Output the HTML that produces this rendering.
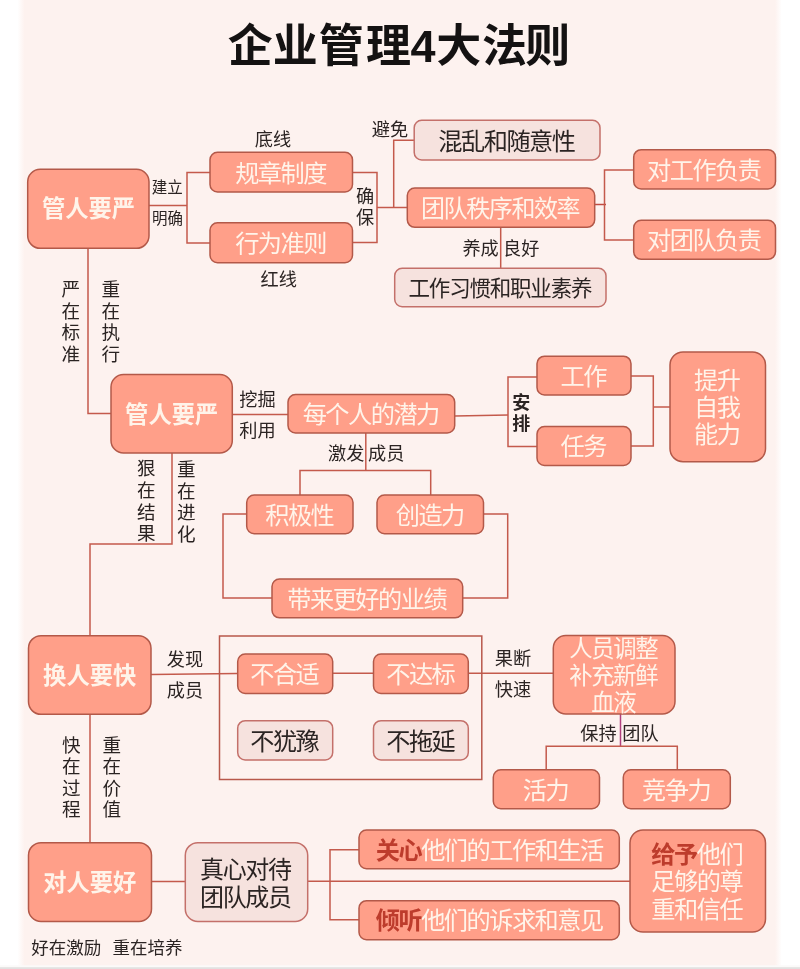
<!DOCTYPE html>
<html lang="zh">
<head>
<meta charset="utf-8">
<title>企业管理4大法则</title>
<style>
html,body{margin:0;padding:0;}
body{width:800px;height:969px;overflow:hidden;background:#fdf2ef;font-family:"Liberation Sans",sans-serif;position:relative;}
#stage{position:absolute;left:0;top:0;width:800px;height:969px;overflow:hidden;}
#stage svg{position:absolute;left:-10px;top:-10px;display:block;filter:blur(0.7px);}
.t{position:absolute;display:block;white-space:nowrap;overflow:hidden;color:transparent;line-height:1.2;font-family:"Liberation Sans",sans-serif;}
</style>
</head>
<body>
<div id="stage">
<svg width="820" height="989" viewBox="-10 -10 820 989">
<rect x="-10" y="-10" width="820" height="989" fill="#fdf2ef"/>
<defs><linearGradient id="ls" x1="0" x2="1" y1="0" y2="0"><stop offset="0" stop-color="#ffffff"/><stop offset="1" stop-color="#fdf2ef"/></linearGradient><linearGradient id="rs" x1="0" x2="1" y1="0" y2="0"><stop offset="0" stop-color="#fdf2ef"/><stop offset="1" stop-color="#ffffff"/></linearGradient></defs>
<rect x="-10" y="-10" width="28" height="989" fill="#ffffff"/>
<rect x="17.5" y="-10" width="7" height="989" fill="url(#ls)"/>
<rect x="775" y="-10" width="7" height="989" fill="url(#rs)"/>
<rect x="781.5" y="-10" width="30" height="989" fill="#ffffff"/>
<rect x="-10" y="965.3" width="820" height="3" fill="#fbfaf9"/>
<rect x="-10" y="967.2" width="820" height="13" fill="#e2e1e0"/>
<polyline points="149,205.5 187,205.5" fill="none" stroke="#c45a4c" stroke-width="1.5"/>
<polyline points="210,172.5 187,172.5 187,243 210,243" fill="none" stroke="#c45a4c" stroke-width="1.5"/>
<polyline points="352,172.5 377,172.5 377,242.5 352,242.5" fill="none" stroke="#c45a4c" stroke-width="1.5"/>
<polyline points="377,207.5 407,207.5" fill="none" stroke="#c45a4c" stroke-width="1.5"/>
<polyline points="393.7,207.5 393.7,140.3 414,140.3" fill="none" stroke="#c45a4c" stroke-width="1.5"/>
<polyline points="500.7,227 500.7,268" fill="none" stroke="#c45a4c" stroke-width="1.5"/>
<polyline points="595,204.5 606,204.5" fill="none" stroke="#c04a40" stroke-width="1.5"/>
<polyline points="634,170 604.5,170 604.5,240 634,240" fill="none" stroke="#c45a4c" stroke-width="1.5"/>
<polyline points="88,248 88,413.5 111,413.5" fill="none" stroke="#c45a4c" stroke-width="1.5"/>
<polyline points="232,414.5 288,414.5" fill="none" stroke="#c45a4c" stroke-width="1.5"/>
<polyline points="455,416 508,415" fill="none" stroke="#c45a4c" stroke-width="1.5"/>
<polyline points="537,377 508,377 508,446.5 537,446.5" fill="none" stroke="#c45a4c" stroke-width="1.5"/>
<polyline points="631,376 653.3,376 653.3,446 631,446" fill="none" stroke="#c45a4c" stroke-width="1.5"/>
<polyline points="653.3,407 670,407" fill="none" stroke="#c45a4c" stroke-width="1.5"/>
<polyline points="365.8,433 365.8,470.5" fill="none" stroke="#c45a4c" stroke-width="1.5"/>
<polyline points="300,495 300,470.5 430.7,470.5 430.7,495" fill="none" stroke="#c45a4c" stroke-width="1.5"/>
<polyline points="247,514 223,514 223,598 272,598" fill="none" stroke="#c45a4c" stroke-width="1.5"/>
<polyline points="483,514 507.7,514 507.7,598 463,598" fill="none" stroke="#c45a4c" stroke-width="1.5"/>
<polyline points="172,453 172,544 90,544 90,636" fill="none" stroke="#c45a4c" stroke-width="1.5"/>
<polyline points="151,674.5 237,673.5" fill="none" stroke="#c45a4c" stroke-width="1.5"/>
<polyline points="332,673.3 373,673.3" fill="none" stroke="#c45a4c" stroke-width="1.5"/>
<polyline points="468,673.3 553,673.3" fill="none" stroke="#c45a4c" stroke-width="1.5"/>
<rect x="219.5" y="636" width="262.3" height="143.5" fill="none" stroke="#b8584b" stroke-width="1.5"/>
<polyline points="620.5,714 620.5,746.5" fill="none" stroke="#b0407e" stroke-width="1.5"/>
<polyline points="546.2,770 546.2,746.3 677.3,746.3 677.3,770" fill="none" stroke="#c45a4c" stroke-width="1.5"/>
<polyline points="90,714 90,843" fill="none" stroke="#c45a4c" stroke-width="1.5"/>
<polyline points="151,881.5 185,881.5" fill="none" stroke="#c45a4c" stroke-width="1.5"/>
<polyline points="308,881.3 630,881.3" fill="none" stroke="#c45a4c" stroke-width="1.5"/>
<polyline points="359,849.7 330,849.7 330,919.7 359,919.7" fill="none" stroke="#c45a4c" stroke-width="1.5"/>
<rect x="27.7" y="169.3" width="121.3" height="79.0" rx="12.5" ry="12.5" fill="#ff9f89" stroke="#b35949" stroke-width="1.5"/>
<rect x="210" y="152.3" width="142.5" height="39.69999999999999" rx="7.5" ry="7.5" fill="#ff9f89" stroke="#b35949" stroke-width="1.5"/>
<rect x="210" y="222.8" width="142.5" height="39.89999999999998" rx="7.5" ry="7.5" fill="#ff9f89" stroke="#b35949" stroke-width="1.5"/>
<rect x="414.2" y="120.3" width="185.8" height="39.7" rx="7.5" ry="7.5" fill="#f6e2de" stroke="#c4706a" stroke-width="1.5"/>
<rect x="407.3" y="188" width="187.40000000000003" height="39.30000000000001" rx="7.5" ry="7.5" fill="#ff9f89" stroke="#b35949" stroke-width="1.5"/>
<rect x="394.7" y="268.3" width="211.3" height="38.39999999999998" rx="7.5" ry="7.5" fill="#f6e2de" stroke="#c4706a" stroke-width="1.5"/>
<rect x="633.7" y="149.7" width="141.79999999999995" height="39.30000000000001" rx="7.5" ry="7.5" fill="#ff9f89" stroke="#b35949" stroke-width="1.5"/>
<rect x="633.7" y="220.3" width="141.79999999999995" height="39.0" rx="7.5" ry="7.5" fill="#ff9f89" stroke="#b35949" stroke-width="1.5"/>
<rect x="111" y="374.5" width="121.30000000000001" height="78.5" rx="12.5" ry="12.5" fill="#ff9f89" stroke="#b35949" stroke-width="1.5"/>
<rect x="288" y="394.5" width="166.7" height="38.5" rx="7.5" ry="7.5" fill="#ff9f89" stroke="#b35949" stroke-width="1.5"/>
<rect x="537" y="356.2" width="94" height="38.80000000000001" rx="7.5" ry="7.5" fill="#ff9f89" stroke="#b35949" stroke-width="1.5"/>
<rect x="537" y="426.5" width="94" height="39.0" rx="7.5" ry="7.5" fill="#ff9f89" stroke="#b35949" stroke-width="1.5"/>
<rect x="670" y="352" width="95.5" height="109.69999999999999" rx="13" ry="13" fill="#ff9f89" stroke="#b35949" stroke-width="1.5"/>
<rect x="246.7" y="495" width="106.30000000000001" height="38.700000000000045" rx="7.5" ry="7.5" fill="#ff9f89" stroke="#b35949" stroke-width="1.5"/>
<rect x="377" y="495" width="106.5" height="38.700000000000045" rx="7.5" ry="7.5" fill="#ff9f89" stroke="#b35949" stroke-width="1.5"/>
<rect x="272" y="579" width="190.7" height="38.799999999999955" rx="7.5" ry="7.5" fill="#ff9f89" stroke="#b35949" stroke-width="1.5"/>
<rect x="28.5" y="635.7" width="122.5" height="78.59999999999991" rx="12.5" ry="12.5" fill="#ff9f89" stroke="#b35949" stroke-width="1.5"/>
<rect x="237.7" y="654" width="95.0" height="39.5" rx="7.5" ry="7.5" fill="#ff9f89" stroke="#b35949" stroke-width="1.5"/>
<rect x="373.5" y="654" width="94.80000000000001" height="39.5" rx="7.5" ry="7.5" fill="#ff9f89" stroke="#b35949" stroke-width="1.5"/>
<rect x="237.7" y="720.7" width="95.0" height="39.299999999999955" rx="7.5" ry="7.5" fill="#f6e2de" stroke="#c4706a" stroke-width="1.5"/>
<rect x="373.5" y="720.7" width="94.80000000000001" height="39.299999999999955" rx="7.5" ry="7.5" fill="#f6e2de" stroke="#c4706a" stroke-width="1.5"/>
<rect x="553.3" y="635.5" width="121.70000000000005" height="78.5" rx="12.5" ry="12.5" fill="#ff9f89" stroke="#b35949" stroke-width="1.5"/>
<rect x="493.3" y="769.8" width="106.19999999999999" height="38.90000000000009" rx="7.5" ry="7.5" fill="#ff9f89" stroke="#b35949" stroke-width="1.5"/>
<rect x="623.3" y="769.8" width="107.0" height="38.90000000000009" rx="7.5" ry="7.5" fill="#ff9f89" stroke="#b35949" stroke-width="1.5"/>
<rect x="28.5" y="842.7" width="123.0" height="78.79999999999995" rx="12.5" ry="12.5" fill="#ff9f89" stroke="#b35949" stroke-width="1.5"/>
<rect x="185.3" y="842.7" width="122.39999999999998" height="78.79999999999995" rx="12.5" ry="12.5" fill="#f6e2de" stroke="#c4706a" stroke-width="1.5"/>
<rect x="359" y="830" width="260.29999999999995" height="38.700000000000045" rx="7.5" ry="7.5" fill="#ff9f89" stroke="#b35949" stroke-width="1.5"/>
<rect x="359" y="900.7" width="260.29999999999995" height="39.0" rx="7.5" ry="7.5" fill="#ff9f89" stroke="#b35949" stroke-width="1.5"/>
<rect x="630" y="830" width="135.5" height="102" rx="13" ry="13" fill="#ff9f89" stroke="#b35949" stroke-width="1.5"/>
<g font-family="&quot;Liberation Sans&quot;, &quot;Noto Sans CJK SC&quot;, sans-serif">
<text x="227.66 272.76 318.86 366.06 410.41 436.36 482.06 525.16" y="62.47" font-size="45" font-weight="bold" fill="#141212">企业管理4大法则</text>
<text x="41.9" y="217.15" font-size="23.3" font-weight="bold" fill="#fff4ea">管人要严</text>
<text x="125.1" y="422.85" font-size="23.3" font-weight="bold" fill="#fff4ea">管人要严</text>
<text x="43.1" y="683.85" font-size="23.3" font-weight="bold" fill="#fff4ea">换人要快</text>
<text x="43.2" y="891.15" font-size="23.3" font-weight="bold" fill="#fff4ea">对人要好</text>
<text x="235.15" y="181.5" font-size="24.2" letter-spacing="-1.5" fill="#fff4ea">规章制度</text>
<text x="235.15" y="252" font-size="24.2" letter-spacing="-1.5" fill="#fff4ea">行为准则</text>
<text x="438.35" y="149.5" font-size="24.2" letter-spacing="-1.5" fill="#2b2423">混乱和随意性</text>
<text x="421" y="216.82" font-size="24" letter-spacing="-1.4" fill="#fff4ea">团队秩序和效率</text>
<text x="408.55" y="295.67" font-size="21.5" letter-spacing="-1.2" fill="#2b2423">工作习惯和职业素养</text>
<text x="647" y="178.7" font-size="24.2" letter-spacing="-1.5" fill="#fff4ea">对工作负责</text>
<text x="647" y="249" font-size="24.2" letter-spacing="-1.5" fill="#fff4ea">对团队负责</text>
<text x="254.8" y="145.62" font-size="18.2" fill="#2b2423">底线</text>
<text x="260.5" y="285.62" font-size="18.2" fill="#2b2423">红线</text>
<text x="151.8" y="192.89" font-size="15.5" fill="#2b2423">建立</text>
<text x="152" y="223.89" font-size="15.5" fill="#2b2423">明确</text>
<text x="355.9" y="202.92" font-size="18.2" fill="#2b2423">确</text>
<text x="355.9" y="224.12" font-size="18.2" fill="#2b2423">保</text>
<text x="371.8" y="135.62" font-size="18.2" fill="#2b2423">避免</text>
<text x="462.4" y="254.92" font-size="18.2" fill="#2b2423">养成</text>
<text x="503.1" y="254.92" font-size="18.2" fill="#2b2423">良好</text>
<text x="61.4 61.4 61.4 61.4" y="296.07 317.67 339.27 360.87" font-size="18.6" fill="#2a2322">严在标准</text>
<text x="101.4 101.4 101.4 101.4" y="296.07 317.67 339.27 360.87" font-size="18.6" fill="#2a2322">重在执行</text>
<text x="302.65" y="423.2" font-size="24.2" letter-spacing="-1.5" fill="#fff4ea">每个人的潜力</text>
<text x="560.55" y="385" font-size="24.2" letter-spacing="-1.5" fill="#fff4ea">工作</text>
<text x="560.55" y="455.2" font-size="24.2" letter-spacing="-1.5" fill="#fff4ea">任务</text>
<text x="694.05" y="389.2" font-size="24.2" letter-spacing="-1.5" fill="#fff4ea">提升</text>
<text x="694.05" y="416.2" font-size="24.2" letter-spacing="-1.5" fill="#fff4ea">自我</text>
<text x="694.05" y="443.2" font-size="24.2" letter-spacing="-1.5" fill="#fff4ea">能力</text>
<text x="239.3" y="405.92" font-size="18.2" fill="#2b2423">挖掘</text>
<text x="239.3" y="436.62" font-size="18.2" fill="#2b2423">利用</text>
<text x="512.3" y="408.84" font-size="18" font-weight="bold" fill="#2b2423">安</text>
<text x="512.3" y="429.54" font-size="18" font-weight="bold" fill="#2b2423">排</text>
<text x="328.1" y="460.42" font-size="18.2" fill="#2b2423">激发</text>
<text x="368.1" y="460.42" font-size="18.2" fill="#2b2423">成员</text>
<text x="265.2" y="523.5" font-size="24.2" letter-spacing="-1.5" fill="#fff4ea">积极性</text>
<text x="395.7" y="523.5" font-size="24.2" letter-spacing="-1.5" fill="#fff4ea">创造力</text>
<text x="287.3" y="607.5" font-size="24.2" letter-spacing="-1.5" fill="#fff4ea">带来更好的业绩</text>
<text x="137 137 137 137" y="475.37 497.07 518.77 540.47" font-size="18.6" fill="#2a2322">狠在结果</text>
<text x="177 177 177 177" y="476.07 497.77 519.47 541.17" font-size="18.6" fill="#2a2322">重在进化</text>
<text x="166.8" y="665.92" font-size="18.2" fill="#2b2423">发现</text>
<text x="166.8" y="696.92" font-size="18.2" fill="#2b2423">成员</text>
<text x="250.2" y="682.7" font-size="24.2" letter-spacing="-1.5" fill="#fff4ea">不合适</text>
<text x="386.2" y="682.7" font-size="24.2" letter-spacing="-1.5" fill="#fff4ea">不达标</text>
<text x="250.2" y="749.5" font-size="24.2" letter-spacing="-1.5" fill="#2b2423">不犹豫</text>
<text x="386.2" y="749.5" font-size="24.2" letter-spacing="-1.5" fill="#2b2423">不拖延</text>
<text x="494.8" y="664.62" font-size="18.2" fill="#2b2423">果断</text>
<text x="494.8" y="696.22" font-size="18.2" fill="#2b2423">快速</text>
<text x="569.3" y="657.39" font-size="23.4" letter-spacing="-1.4" fill="#fff4ea">人员调整</text>
<text x="569.3" y="684.09" font-size="23.4" letter-spacing="-1.4" fill="#fff4ea">补充新鲜</text>
<text x="591.3" y="710.59" font-size="23.4" letter-spacing="-1.4" fill="#fff4ea">血液</text>
<text x="580.3" y="739.62" font-size="18.2" fill="#2b2423">保持</text>
<text x="622.3" y="739.62" font-size="18.2" fill="#2b2423">团队</text>
<text x="522.85" y="798.5" font-size="24.2" letter-spacing="-1.5" fill="#fff4ea">活力</text>
<text x="642" y="798.5" font-size="24.2" letter-spacing="-1.5" fill="#fff4ea">竞争力</text>
<text x="62 62 62 62" y="752.07 773.47 794.87 816.27" font-size="18.6" fill="#2a2322">快在过程</text>
<text x="102.4 102.4 102.4 102.4" y="752.07 773.47 794.87 816.27" font-size="18.6" fill="#2a2322">重在价值</text>
<text x="200.1" y="877.62" font-size="24" letter-spacing="-1.4" fill="#2b2423">真心对待</text>
<text x="200.1" y="905.82" font-size="24" letter-spacing="-1.4" fill="#2b2423">团队成员</text>
<text x="375.75" y="858.5" font-size="24.2" letter-spacing="-1.5" font-weight="bold" fill="#bd3c2c">关心</text>
<text x="421.15" y="858.5" font-size="24.2" letter-spacing="-1.5" fill="#fff4ea">他们的工作和生活</text>
<text x="375.75" y="929.2" font-size="24.2" letter-spacing="-1.5" font-weight="bold" fill="#bd3c2c">倾听</text>
<text x="421.15" y="929.2" font-size="24.2" letter-spacing="-1.5" fill="#fff4ea">他们的诉求和意见</text>
<text x="651.35" y="863.2" font-size="24.2" letter-spacing="-1.5" font-weight="bold" fill="#bd3c2c">给予</text>
<text x="696.75" y="863.2" font-size="24.2" letter-spacing="-1.5" fill="#fff4ea">他们</text>
<text x="651.35" y="890.2" font-size="24.2" letter-spacing="-1.5" fill="#fff4ea">足够的尊</text>
<text x="651.35" y="917.5" font-size="24.2" letter-spacing="-1.5" fill="#fff4ea">重和信任</text>
<text x="31.3" y="953.95" font-size="17.5" fill="#2b2423">好在激励</text>
<text x="112.5" y="953.95" font-size="17.5" fill="#2b2423">重在培养</text>
</g>
</svg>
<span class="t" style="left:229px;top:20px;width:340px;font-size:45px">企业管理4大法则</span>
<span class="t" style="left:42px;top:194px;width:93px;font-size:23px">管人要严</span>
<span class="t" style="left:125px;top:400px;width:93px;font-size:23px">管人要严</span>
<span class="t" style="left:43px;top:661px;width:93px;font-size:23px">换人要快</span>
<span class="t" style="left:43px;top:868px;width:93px;font-size:23px">对人要好</span>
<span class="t" style="left:235px;top:158px;width:92px;font-size:24px">规章制度</span>
<span class="t" style="left:235px;top:228px;width:92px;font-size:24px">行为准则</span>
<span class="t" style="left:438px;top:126px;width:138px;font-size:24px">混乱和随意性</span>
<span class="t" style="left:421px;top:193px;width:160px;font-size:24px">团队秩序和效率</span>
<span class="t" style="left:409px;top:275px;width:184px;font-size:22px">工作习惯和职业素养</span>
<span class="t" style="left:647px;top:155px;width:115px;font-size:24px">对工作负责</span>
<span class="t" style="left:647px;top:225px;width:115px;font-size:24px">对团队负责</span>
<span class="t" style="left:255px;top:128px;width:36px;font-size:18px">底线</span>
<span class="t" style="left:260px;top:268px;width:36px;font-size:18px">红线</span>
<span class="t" style="left:152px;top:178px;width:31px;font-size:16px">建立</span>
<span class="t" style="left:152px;top:209px;width:31px;font-size:16px">明确</span>
<span class="t" style="left:356px;top:185px;width:18px;font-size:18px">确</span>
<span class="t" style="left:356px;top:206px;width:18px;font-size:18px">保</span>
<span class="t" style="left:372px;top:118px;width:36px;font-size:18px">避免</span>
<span class="t" style="left:462px;top:237px;width:36px;font-size:18px">养成</span>
<span class="t" style="left:503px;top:237px;width:36px;font-size:18px">良好</span>
<span class="t" style="left:61px;top:278px;width:19px;font-size:19px">严</span>
<span class="t" style="left:61px;top:299px;width:19px;font-size:19px">在</span>
<span class="t" style="left:61px;top:321px;width:19px;font-size:19px">标</span>
<span class="t" style="left:61px;top:343px;width:19px;font-size:19px">准</span>
<span class="t" style="left:101px;top:278px;width:19px;font-size:19px">重</span>
<span class="t" style="left:101px;top:299px;width:19px;font-size:19px">在</span>
<span class="t" style="left:101px;top:321px;width:19px;font-size:19px">执</span>
<span class="t" style="left:101px;top:343px;width:19px;font-size:19px">行</span>
<span class="t" style="left:303px;top:399px;width:138px;font-size:24px">每个人的潜力</span>
<span class="t" style="left:561px;top:361px;width:47px;font-size:24px">工作</span>
<span class="t" style="left:561px;top:431px;width:47px;font-size:24px">任务</span>
<span class="t" style="left:694px;top:365px;width:47px;font-size:24px">提升</span>
<span class="t" style="left:694px;top:392px;width:47px;font-size:24px">自我</span>
<span class="t" style="left:694px;top:419px;width:47px;font-size:24px">能力</span>
<span class="t" style="left:239px;top:388px;width:36px;font-size:18px">挖掘</span>
<span class="t" style="left:239px;top:419px;width:36px;font-size:18px">利用</span>
<span class="t" style="left:512px;top:391px;width:18px;font-size:18px">安</span>
<span class="t" style="left:512px;top:412px;width:18px;font-size:18px">排</span>
<span class="t" style="left:328px;top:443px;width:36px;font-size:18px">激发</span>
<span class="t" style="left:368px;top:443px;width:36px;font-size:18px">成员</span>
<span class="t" style="left:265px;top:500px;width:70px;font-size:24px">积极性</span>
<span class="t" style="left:396px;top:500px;width:70px;font-size:24px">创造力</span>
<span class="t" style="left:287px;top:584px;width:160px;font-size:24px">带来更好的业绩</span>
<span class="t" style="left:137px;top:457px;width:19px;font-size:19px">狠</span>
<span class="t" style="left:137px;top:479px;width:19px;font-size:19px">在</span>
<span class="t" style="left:137px;top:501px;width:19px;font-size:19px">结</span>
<span class="t" style="left:137px;top:522px;width:19px;font-size:19px">果</span>
<span class="t" style="left:177px;top:458px;width:19px;font-size:19px">重</span>
<span class="t" style="left:177px;top:480px;width:19px;font-size:19px">在</span>
<span class="t" style="left:177px;top:501px;width:19px;font-size:19px">进</span>
<span class="t" style="left:177px;top:523px;width:19px;font-size:19px">化</span>
<span class="t" style="left:167px;top:648px;width:36px;font-size:18px">发现</span>
<span class="t" style="left:167px;top:679px;width:36px;font-size:18px">成员</span>
<span class="t" style="left:250px;top:659px;width:70px;font-size:24px">不合适</span>
<span class="t" style="left:386px;top:659px;width:70px;font-size:24px">不达标</span>
<span class="t" style="left:250px;top:726px;width:70px;font-size:24px">不犹豫</span>
<span class="t" style="left:386px;top:726px;width:70px;font-size:24px">不拖延</span>
<span class="t" style="left:495px;top:647px;width:36px;font-size:18px">果断</span>
<span class="t" style="left:495px;top:678px;width:36px;font-size:18px">快速</span>
<span class="t" style="left:569px;top:634px;width:89px;font-size:23px">人员调整</span>
<span class="t" style="left:569px;top:661px;width:89px;font-size:23px">补充新鲜</span>
<span class="t" style="left:591px;top:688px;width:45px;font-size:23px">血液</span>
<span class="t" style="left:580px;top:722px;width:36px;font-size:18px">保持</span>
<span class="t" style="left:622px;top:722px;width:36px;font-size:18px">团队</span>
<span class="t" style="left:523px;top:775px;width:47px;font-size:24px">活力</span>
<span class="t" style="left:642px;top:775px;width:70px;font-size:24px">竞争力</span>
<span class="t" style="left:62px;top:734px;width:19px;font-size:19px">快</span>
<span class="t" style="left:62px;top:755px;width:19px;font-size:19px">在</span>
<span class="t" style="left:62px;top:777px;width:19px;font-size:19px">过</span>
<span class="t" style="left:62px;top:798px;width:19px;font-size:19px">程</span>
<span class="t" style="left:102px;top:734px;width:19px;font-size:19px">重</span>
<span class="t" style="left:102px;top:755px;width:19px;font-size:19px">在</span>
<span class="t" style="left:102px;top:777px;width:19px;font-size:19px">价</span>
<span class="t" style="left:102px;top:798px;width:19px;font-size:19px">值</span>
<span class="t" style="left:200px;top:854px;width:92px;font-size:24px">真心对待</span>
<span class="t" style="left:200px;top:882px;width:92px;font-size:24px">团队成员</span>
<span class="t" style="left:376px;top:835px;width:228px;font-size:24px">关心他们的工作和生活</span>
<span class="t" style="left:376px;top:905px;width:228px;font-size:24px">倾听他们的诉求和意见</span>
<span class="t" style="left:651px;top:839px;width:92px;font-size:24px">给予他们</span>
<span class="t" style="left:651px;top:866px;width:92px;font-size:24px">足够的尊</span>
<span class="t" style="left:651px;top:894px;width:92px;font-size:24px">重和信任</span>
<span class="t" style="left:31px;top:937px;width:70px;font-size:18px">好在激励</span>
<span class="t" style="left:112px;top:937px;width:70px;font-size:18px">重在培养</span>
</div>
</body>
</html>
